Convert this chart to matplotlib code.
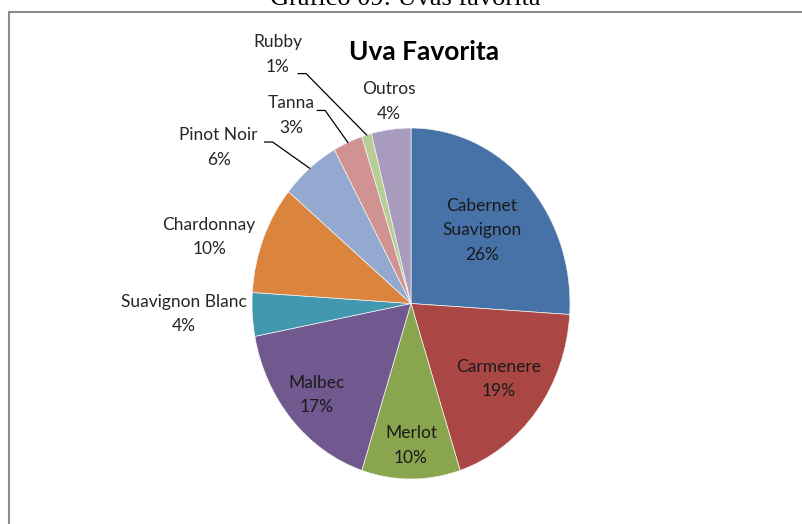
import numpy as np
import matplotlib
matplotlib.use('Agg')
import matplotlib.pyplot as plt
from matplotlib.lines import Line2D

# data
grapes = ['Cabernet\nSuavignon', 'Carmenere', 'Merlot', 'Malbec', 'Suavignon Blanc',
          'Chardonnay', 'Pinot Noir', 'Tanna', 'Rubby', 'Outros']
shares = [26, 19, 10, 17, 4, 10, 6, 3, 1, 4]
colors = ['#4672A8', '#AA4643', '#89A54E', '#71588F', '#4198AF',
          '#DB843D', '#93A9CF', '#D19392', '#B9CD96', '#A99BBD']

caption = 'Gráfico 09: Uvas favorita'
title = 'Uva Favorita'

W, H = 802, 524
fig = plt.figure(figsize=(W / 100, H / 100), dpi=100)

# pie box in pixels (left, top, right, bottom) -> slightly taller than wide
px = (252, 128, 570, 479)
ax = fig.add_axes([px[0] / W, 1 - px[3] / H, (px[2] - px[0]) / W, (px[3] - px[1]) / H])
wedges, _ = ax.pie(shares, colors=colors, startangle=90, counterclock=False,
                   wedgeprops=dict(linewidth=0.5, edgecolor='#f4f4f4'))
ax.set_aspect('auto')
ax.set_xlim(-1, 1)
ax.set_ylim(-1, 1)

font = 'Lato'
lab_size = 12.5
lsp = 1.65
txt_col = '#262626'

# mid angles of each slice
tot = float(sum(shares))
cum = np.cumsum([0] + shares)
mid = [np.deg2rad(90 - 360 * (cum[i] + shares[i] / 2) / tot) for i in range(len(shares))]

# inside labels: radius factor along the slice's mid angle
inside = {0: 0.61, 1: 0.70, 2: 0.81, 3: 0.79}
for i, r in inside.items():
    ax.text(r * np.cos(mid[i]), r * np.sin(mid[i]), f'{grapes[i]}\n{shares[i]}%',
            ha='center', va='center', fontsize=lab_size, family=font,
            color='#1a1a1a', linespacing=lsp)

# outside labels: text position in axes data units (layout only)
outside = {4: (-1.43, -0.06), 5: (-1.27, 0.38), 6: (-1.21, 0.89),
           7: (-0.75, 1.07), 8: (-0.84, 1.42), 9: (-0.14, 1.15)}
for i, (tx, ty) in outside.items():
    ax.text(tx, ty, f'{grapes[i]}\n{shares[i]}%', ha='center', va='center',
            fontsize=lab_size, family=font, color=txt_col, linespacing=lsp,
            clip_on=False)

# leader lines: (start x, elbow x, y) in data units, end on the slice edge
leaders = {6: (-0.92, -0.87, 0.92), 7: (-0.59, -0.54, 1.10), 8: (-0.71, -0.66, 1.31)}
for i, (x0, x1, y) in leaders.items():
    ex, ey = np.cos(mid[i]), np.sin(mid[i])
    ax.add_line(Line2D([x0, x1, ex], [y, y, ey], color='black', lw=0.9,
                       clip_on=False))

fig.text(424 / W, 1 - 52 / H, title, ha='center', va='center', fontsize=19,
         family=font, fontweight='bold', color='black')

# page caption, cut at top edge as in the source
fig.text(405 / W, 1 - 5 / H, caption, ha='center', va='baseline', fontsize=19,
         family='Liberation Serif', color='black')

# chart frame (continues past right and bottom edges)
fig.add_artist(Line2D([8.5 / W, 1.0], [1 - 12 / H, 1 - 12 / H], color='#8c8c8c',
                      lw=1.5, transform=fig.transFigure))
fig.add_artist(Line2D([8.5 / W, 8.5 / W], [0, 1 - 12 / H], color='#8c8c8c',
                      lw=1.5, transform=fig.transFigure))

fig.savefig('out.png', dpi=100)
